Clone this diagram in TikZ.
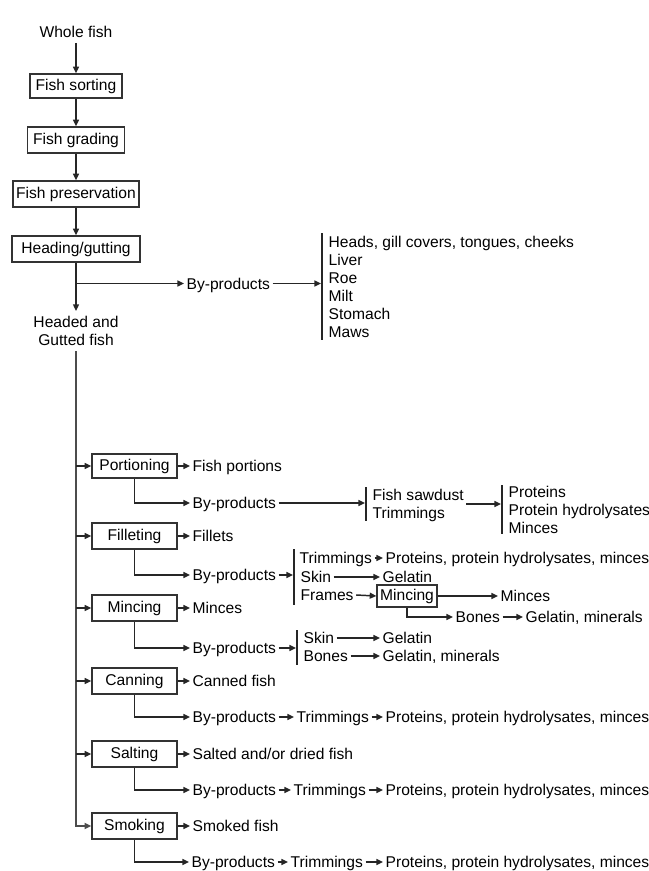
\documentclass[tikz,border=0pt]{standalone}
\usepackage{fontspec}
\setmainfont{Liberation Sans}
\usetikzlibrary{arrows.meta}
\begin{document}
\begin{tikzpicture}[x=0.75pt,y=-0.75pt,
  every node/.style={font=\fontsize{11.7}{13.5}\selectfont},
  ln/.style={line width=1.1pt, draw=black!85},
  arr/.style={ln, -{Triangle[length=5pt,width=4.5pt]}},
  mainln/.style={line width=1.7pt, draw=black!70, -{Triangle[length=5pt,width=4.5pt]}},
  box/.style={draw=black!80, line width=1pt, inner sep=0pt, minimum height=19.5pt, text height=8.4pt, text depth=1.5pt},
  lbox/.style={box, minimum width=63.75pt},
  txt/.style={anchor=west, inner sep=0pt, outer xsep=2pt, text height=8.4pt, text depth=0pt},
  brk/.style={line width=1pt, draw=black!85},
]
\useasboundingbox (0,0) rectangle (649,871);

% ---- upper column ----
\node[inner sep=0pt, outer sep=4pt, text height=8.4pt, text depth=0pt] (whole) at (76,32) {Whole fish};
\node[box, minimum width=69pt, minimum height=18pt] (sort) at (76,86) {Fish sorting};
\node[box, minimum width=72.75pt] (grade) at (76,140) {Fish grading};
\node[box, minimum width=94.5pt] (pres) at (76,194) {Fish preservation};
\node[box, minimum width=96pt] (head) at (76,249) {Heading/gutting};
\node[align=center, inner sep=0pt, outer sep=4pt] (headed) at (76,331) {Headed and\\Gutted fish};

\draw[arr] (whole) -- (sort);
\draw[arr] (sort) -- (grade);
\draw[arr] (grade) -- (pres);
\draw[arr] (pres) -- (head);
\draw[arr] (head) -- (headed);

% by-products of heading/gutting
\coordinate (br0) at (76,283.5);
\node[txt] (by0) at (184,283.5) {By-products};
\draw[arr] (br0) -- (by0.west);
\draw[brk] (322,233) -- (322,340);
\coordinate (c0) at (321,283.5);
\draw[arr] (by0.east) -- (c0);
\node[txt] (h1) at (326,242) {Heads, gill covers, tongues, cheeks};
\node[txt] (h2) at (326,260) {Liver};
\node[txt] (h3) at (326,278) {Roe};
\node[txt] (h4) at (326,296) {Milt};
\node[txt] (h5) at (326,314) {Stomach};
\node[txt] (h6) at (326,332) {Maws};

% ---- lower boxes ----
\node[lbox, minimum height=18pt] (portion) at (134.5,466) {Portioning};
\node[lbox] (fillet) at (134.5,536) {Filleting};
\node[lbox] (mince) at (134.5,608) {Mincing};
\node[lbox] (can) at (134.5,681) {Canning};
\node[lbox] (salt) at (134.5,754) {Salting};
\node[lbox] (smoke) at (134.5,826) {Smoking};

\draw[mainln] (headed.south) |- (smoke.west);
\foreach \b in {portion,fillet,mince,can,salt}
  \draw[arr] (headed.south |- \b.west) -- (\b.west);

% main products
\node[txt] (pout) at (190,466) {Fish portions};
\node[txt] (fout) at (190,536) {Fillets};
\node[txt] (mout) at (190,608) {Minces};
\node[txt] (cout) at (190,681) {Canned fish};
\node[txt] (sout) at (190,754) {Salted and/or dried fish};
\node[txt] (kout) at (190,826) {Smoked fish};
\draw[arr] (portion.east) -- (pout.west);
\draw[arr] (fillet.east) -- (fout.west);
\draw[arr] (mince.east) -- (mout.west);
\draw[arr] (can.east) -- (cout.west);
\draw[arr] (salt.east) -- (sout.west);
\draw[arr] (smoke.east) -- (kout.west);

% by-products labels
\node[txt] (byp) at (190,503) {By-products};
\node[txt] (byf) at (190,575) {By-products};
\node[txt] (bym) at (190,648) {By-products};
\node[txt] (byc) at (190,717) {By-products};
\node[txt] (bys) at (190,790) {By-products};
\node[txt] (byk) at (189,862) {By-products};
\draw[arr] (portion.south) |- (byp.west);
\draw[arr] (fillet.south) |- (byf.west);
\draw[arr] (mince.south) |- (bym.west);
\draw[arr] (can.south) |- (byc.west);
\draw[arr] (salt.south) |- (bys.west);
\draw[arr] (smoke.south) |- (byk.west);

% portioning chain
\draw[brk] (366,487) -- (366,521);
\coordinate (c1) at (365,503);
\draw[arr] (byp.east) -- (c1);
\node[txt] (fs) at (370,495) {Fish sawdust};
\node[txt] (ptr) at (370,513) {Trimmings};
\draw[brk] (502,485) -- (502,534);
\coordinate (c2) at (501,504);
\draw[arr] (fs.east |- c2) -- (c2);
\node[txt] (pp1) at (506,492) {Proteins};
\node[txt] (pp2) at (506,510) {Protein hydrolysates};
\node[txt] (pp3) at (506,528) {Minces};

% filleting chain
\draw[brk] (294,549) -- (294,605);
\coordinate (c3) at (293,575);
\draw[arr] (byf.east) -- (c3);
\node[txt] (ftr) at (297,558) {Trimmings};
\node[txt] (fprot) at (383,558) {Proteins, protein hydrolysates, minces};
\draw[arr] (ftr.east) -- (fprot.west);
\node[txt] (fskin) at (298,577) {Skin};
\node[txt] (fgel) at (380,577) {Gelatin};
\draw[arr] (fskin.east) -- (fgel.west);
\node[txt] (ffr) at (298,595) {Frames};
\node[box, minimum width=45pt, minimum height=16.5pt] (fmince) at (407,596) {Mincing};
\draw[arr] (ffr.east) -- (fmince.west);
\node[txt] (fmin) at (498,596) {Minces};
\draw[arr] (fmince.east) -- (fmin.west);
\node[txt] (fbones) at (453,617) {Bones};
\node[txt] (fgm) at (523,617) {Gelatin, minerals};
\draw[arr] (fmince.south) |- (fbones.west);
\draw[arr] (fbones.east) -- (fgm.west);

% mincing chain
\draw[brk] (297,630) -- (297,665);
\coordinate (c4) at (296,648);
\draw[arr] (bym.east) -- (c4);
\node[txt] (mskin) at (301,638) {Skin};
\node[txt] (mgel) at (380,638) {Gelatin};
\draw[arr] (mskin.east) -- (mgel.west);
\node[txt] (mbones) at (301,656) {Bones};
\node[txt] (mgm) at (380,656) {Gelatin, minerals};
\draw[arr] (mbones.east) -- (mgm.west);

% canning chain
\node[txt] (ctr) at (294,717) {Trimmings};
\node[txt] (cprot) at (383,717) {Proteins, protein hydrolysates, minces};
\draw[arr] (byc.east) -- (ctr.west);
\draw[arr] (ctr.east) -- (cprot.west);

% salting chain
\node[txt] (str) at (291,790) {Trimmings};
\node[txt] (sprot) at (383,790) {Proteins, protein hydrolysates, minces};
\draw[arr] (bys.east) -- (str.west);
\draw[arr] (str.east) -- (sprot.west);

% smoking chain
\node[txt] (ktr) at (288,862) {Trimmings};
\node[txt] (kprot) at (383,862) {Proteins, protein hydrolysates, minces};
\draw[arr] (byk.east) -- (ktr.west);
\draw[arr] (ktr.east) -- (kprot.west);
\end{tikzpicture}
\end{document}
